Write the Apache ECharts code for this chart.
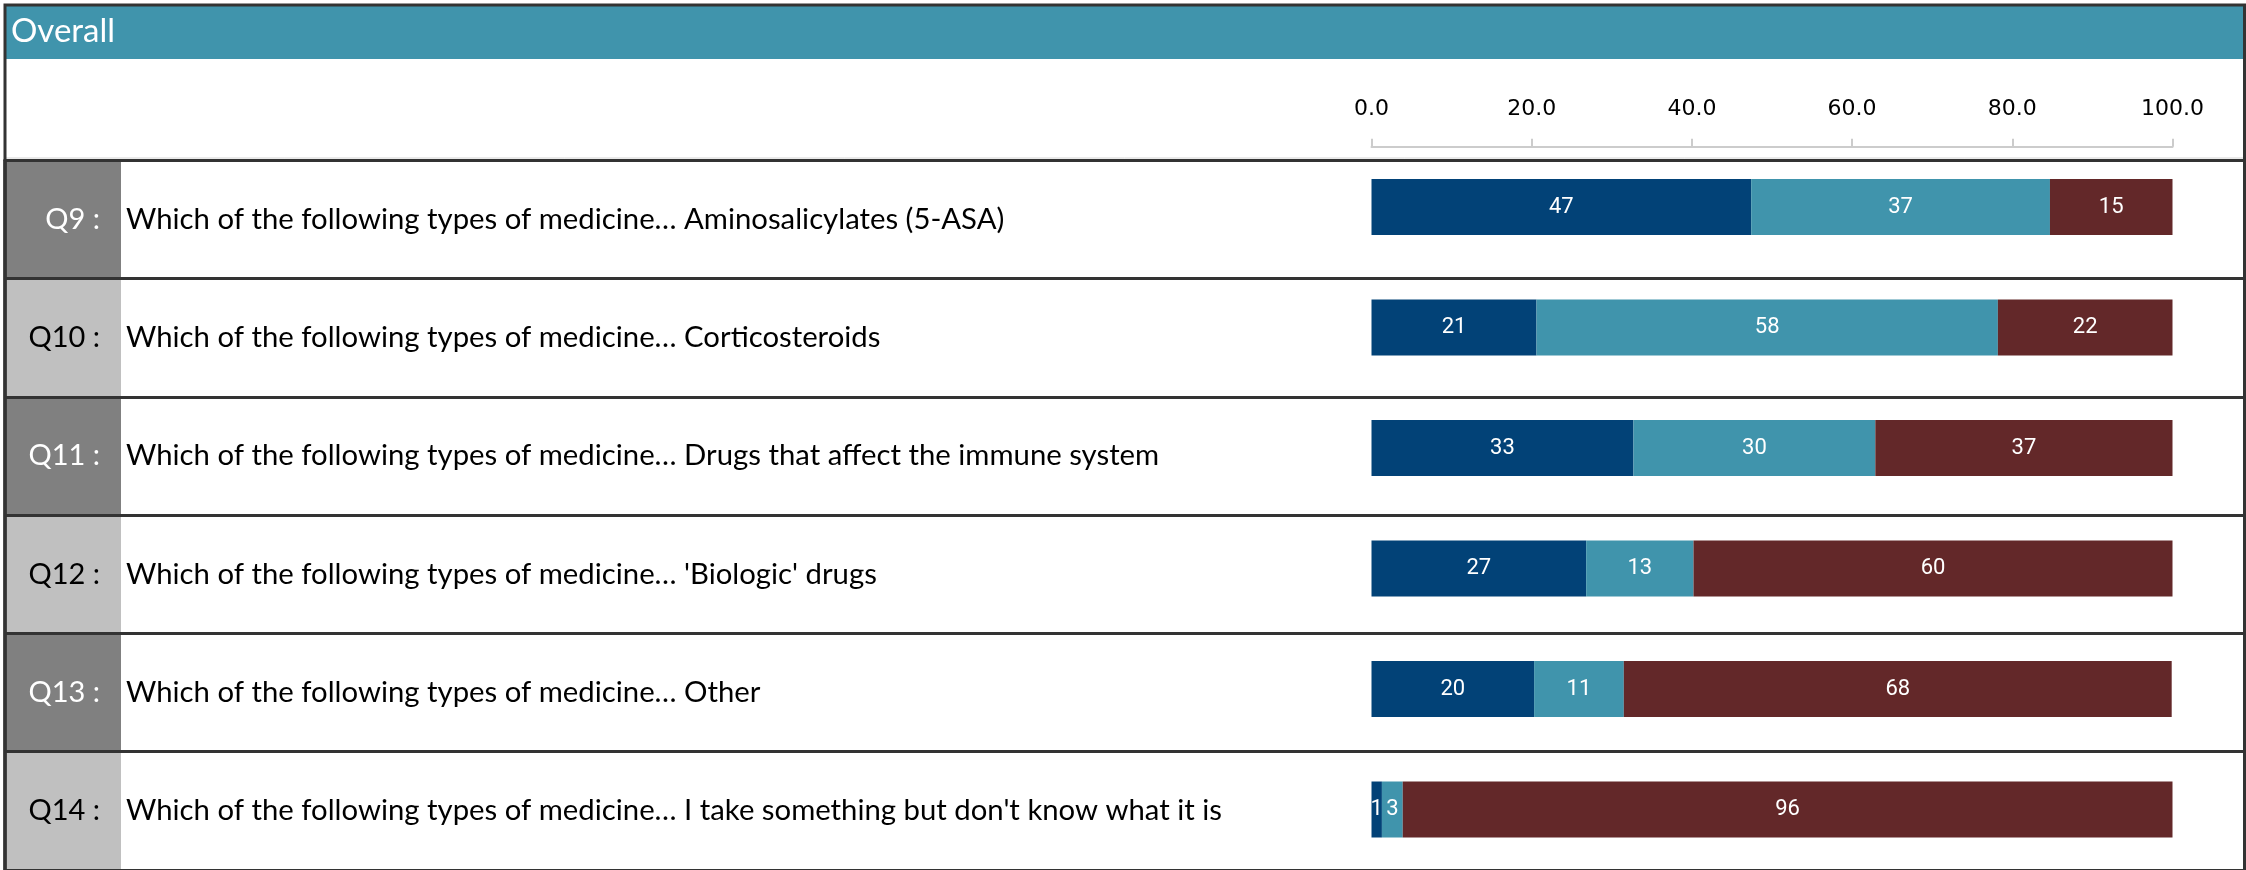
<!DOCTYPE html>
<html>
<head>
<meta charset="utf-8">
<script src="https://cdn.jsdelivr.net/npm/echarts@6/dist/echarts.min.js"></script>
<style>
  html, body { margin: 0; padding: 0; background: #fff; }
  #chart { width: 2246px; height: 870px; }
</style>
</head>
<body>
<div id="chart"></div>
<script>
// ---- data ----
const qIds = ['Q9 :', 'Q10 :', 'Q11 :', 'Q12 :', 'Q13 :', 'Q14 :'];
const questions = [
  'Which of the following types of medicine\u2026 Aminosalicylates (5-ASA)',
  'Which of the following types of medicine\u2026 Corticosteroids',
  'Which of the following types of medicine\u2026 Drugs that affect the immune system',
  "Which of the following types of medicine\u2026 'Biologic' drugs",
  'Which of the following types of medicine\u2026 Other',
  "Which of the following types of medicine\u2026 I take something but don't know what it is"
];
const seriesNames = ['Response 1', 'Response 2', 'Response 3'];
const seriesA = [47.4, 20.6, 32.7, 26.8, 20.3, 1.3];
const seriesB = [37.3, 57.6, 30.2, 13.4, 11.2, 2.6];
const seriesC = [15.3, 21.8, 37.1, 59.8, 68.4, 96.1];
const axisMin = 0, axisMax = 100, axisStep = 20;
const headerTitle = 'Overall';

const colors = ['#024277', '#4094ac', '#632829'];
const textFont = 'Lato';

const chart = echarts.init(document.getElementById('chart'), null, { renderer: 'canvas' });

function barSeries(name, data, color) {
  return {
    name: name,
    type: 'bar',
    stack: 'total',
    xAxisIndex: 2,
    yAxisIndex: 2,
    barWidth: 56,
    data: data,
    itemStyle: { color: color },
    label: {
      show: true,
      position: 'inside',
      color: '#fff',
      fontFamily: 'Roboto',
      fontSize: 22,
      formatter: p => String(Math.round(p.value))
    },
    emphasis: { disabled: true }
  };
}

const option = {
  animation: false,
  backgroundColor: '#fff',
  title: {
    text: headerTitle,
    left: 11,
    top: 15,
    padding: 0,
    textStyle: { color: '#fff', fontSize: 33, fontWeight: 'normal', fontFamily: textFont }
  },
  graphic: [
    { type: 'rect', z: -10, shape: { x: 5, y: 5, width: 2239, height: 54 }, style: { fill: '#4094ac' } },
    { type: 'line', z: -5, shape: { x1: 5, y1: 158, x2: 2244, y2: 158 }, style: { stroke: '#d4d4d4', lineWidth: 1 } },
    { type: 'rect', z: 100, shape: { x: 5, y: 5, width: 2239.5, height: 900 }, style: { fill: 'none', stroke: '#333', lineWidth: 3 } }
  ],
  grid: [
    { left: 5, top: 160.3, width: 116, height: 712 },
    { left: 121, top: 160.3, right: 2, height: 712 },
    { left: 1371.5, top: 146.75, width: 801, height: 723 }
  ],
  xAxis: [
    { gridIndex: 0, type: 'value', show: false, min: 0, max: 1 },
    { gridIndex: 1, type: 'value', show: false, min: 0, max: 1 },
    {
      gridIndex: 2, type: 'value', position: 'top',
      min: axisMin, max: axisMax, interval: axisStep,
      axisLine: { show: true, lineStyle: { color: '#cccccc', width: 2 } },
      axisTick: { show: true, length: 8, lineStyle: { color: '#cccccc', width: 2 } },
      splitLine: { show: false },
      axisLabel: {
        margin: 26, color: '#000', fontFamily: 'DejaVu Sans', fontSize: 22,
        formatter: v => v.toFixed(1)
      }
    }
  ],
  yAxis: [
    {
      gridIndex: 0, type: 'category', data: qIds, inverse: true, position: 'right',
      axisLine: { show: true, lineStyle: { color: '#333', width: 3.5 } },
      axisTick: { show: false },
      axisLabel: {
        inside: true, margin: 21, fontFamily: textFont, fontSize: 29,
        color: (v, i) => (i % 2 === 0 ? '#ffffff' : '#000000')
      },
      splitArea: { show: true, areaStyle: { color: ['#808080', '#c0c0c0'] } },
      splitLine: { show: true, lineStyle: { color: '#333', width: 3 } }
    },
    {
      gridIndex: 1, type: 'category', data: questions, inverse: true, position: 'left',
      axisLine: { show: false },
      axisTick: { show: false },
      axisLabel: { inside: true, margin: 5, fontFamily: textFont, fontSize: 29.3, color: '#000' },
      splitLine: { show: true, lineStyle: { color: '#333', width: 3 } }
    },
    { gridIndex: 2, type: 'category', data: qIds, inverse: true, show: false }
  ],
  series: [
    barSeries(seriesNames[0], seriesA, colors[0]),
    barSeries(seriesNames[1], seriesB, colors[1]),
    barSeries(seriesNames[2], seriesC, colors[2])
  ]
};

chart.setOption(option);
</script>
</body>
</html>
